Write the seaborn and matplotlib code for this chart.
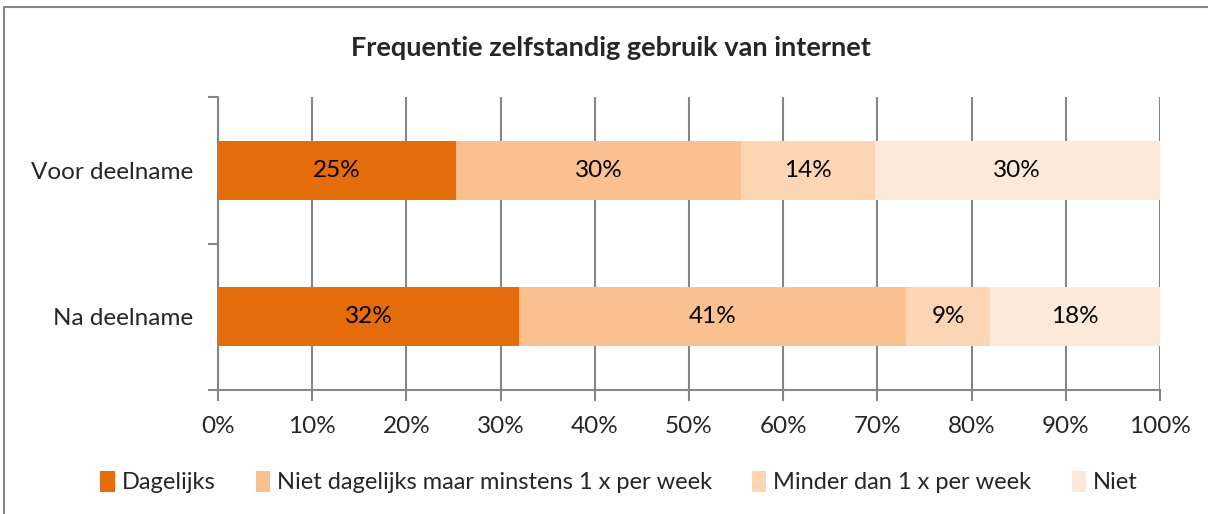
import numpy as np
import pandas as pd
import matplotlib
matplotlib.use("Agg")
import matplotlib.pyplot as plt
import seaborn as sns
from matplotlib.patches import Patch, Rectangle
from matplotlib.ticker import FixedLocator, PercentFormatter

# data
groepen = ["Voor deelname", "Na deelname"]
categorieen = ["Dagelijks", "Niet dagelijks maar minstens 1 x per week",
               "Minder dan 1 x per week", "Niet"]
voor = [25.3, 30.2, 14.2, 30.3]
na = [32.0, 41.0, 9.0, 18.0]
kleuren = ["#E46C0A", "#FAC090", "#FCD5B5", "#FDE9D9"]

sns.set_style("white")
plt.rcParams["font.family"] = ["Lato", "DejaVu Sans"]

waarden = np.array([voor, na])
cum = np.cumsum(waarden, axis=1)

fig = plt.figure(figsize=(12.08, 5.14), dpi=100)
ax = fig.add_axes([218 / 1208, 1 - 390 / 514, 942 / 1208, 293 / 514])

# gestapelde balken: cumulatieve totalen van achter naar voor tekenen
for i in reversed(range(len(categorieen))):
    df = pd.DataFrame({"groep": groepen, "eind": cum[:, i]})
    sns.barplot(data=df, x="eind", y="groep", orient="h", color=kleuren[i],
                width=0.4, saturation=1, ax=ax, zorder=3, linewidth=0)

for r in range(len(groepen)):
    for i in range(len(categorieen)):
        midden = cum[r, i] - waarden[r, i] / 2
        ax.text(midden, r, f"{waarden[r, i]:.0f}%", ha="center", va="center",
                fontsize=17.5, color="black", zorder=4)

ax.set_xlim(0, 100)
ax.set_ylim(1.5, -0.5)
ax.xaxis.set_major_locator(FixedLocator(np.arange(0, 101, 10)))
ax.xaxis.set_major_formatter(PercentFormatter(decimals=0))
ax.grid(axis="x", color="#868686", linewidth=1.5, zorder=0)
ax.set_axisbelow(True)
ax.set_xlabel("")
ax.set_ylabel("")

for s in ["top", "right"]:
    ax.spines[s].set_visible(False)
for s in ["left", "bottom"]:
    ax.spines[s].set_color("#868686")
    ax.spines[s].set_linewidth(1.5)

ax.tick_params(axis="x", bottom=True, length=8, width=1.5, color="#868686",
               labelsize=17.5, pad=11, direction="out")
ax.tick_params(axis="y", which="major", left=False, length=0, labelsize=17.5, pad=18)
ax.yaxis.set_minor_locator(FixedLocator([-0.5, 0.5, 1.5]))
ax.tick_params(axis="y", which="minor", left=True, length=7, width=1.5,
               color="#868686", direction="out")

fig.text(611 / 1208, 1 - 48 / 514, "Frequentie zelfstandig gebruik van internet",
         ha="center", va="center", fontsize=19.5, fontweight="bold")

handles = [Patch(facecolor=k, edgecolor="none") for k in kleuren]
fig.legend(handles, categorieen, loc="center", bbox_to_anchor=(619 / 1208, 1 - 482 / 514),
           ncol=4, frameon=False, fontsize=17, handlelength=0.6, handleheight=1.0,
           handletextpad=0.3, columnspacing=1.7)

fig.patches.append(Rectangle((4 / 1208, -0.1), 1.2, 1 - 7 / 514 + 0.1,
                             transform=fig.transFigure, fill=False,
                             edgecolor="#868686", linewidth=1.5))

fig.savefig("out.png", dpi=100)
